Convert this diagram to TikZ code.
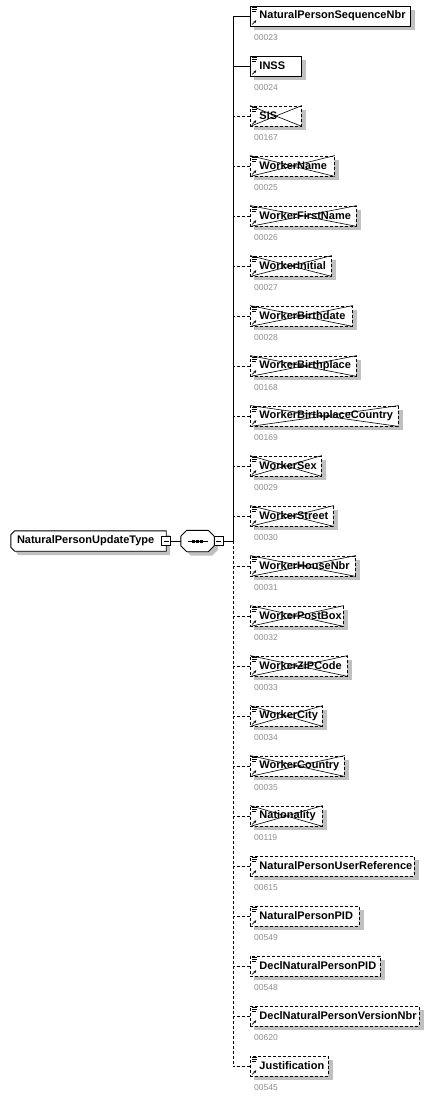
\documentclass[tikz,border=0pt]{standalone}
\usepackage{fontspec}
\setmainfont{Liberation Sans}
\usetikzlibrary{arrows.meta,backgrounds,calc}
\definecolor{shad}{RGB}{192,192,192}
\definecolor{numgray}{RGB}{140,140,140}
\tikzset{
  icons/.style={path picture={
    \draw[solid,line width=0.7pt]
      ([shift={(2pt,-1.6pt)}]path picture bounding box.north west) -- ++(5pt,0pt)
      ([shift={(2pt,-3.4pt)}]path picture bounding box.north west) -- ++(5pt,0pt)
      ([shift={(2pt,-5.2pt)}]path picture bounding box.north west) -- ++(3.5pt,0pt);
    \draw[solid,line width=0.8pt,-{Stealth[length=2.6pt,width=2.8pt]}]
      ([shift={(1.8pt,1.6pt)}]path picture bounding box.south west) -- ++(4pt,4pt);
  }},
  elem/.style={draw, fill=white, line width=0.9pt, anchor=west, minimum height=20pt,
    inner xsep=0pt, inner ysep=0pt, font=\bfseries\fontsize{11}{13}\selectfont, icons},
  optl/.style={dash pattern=on 3pt off 2pt},
  k0/.style={},
  k1/.style={optl},
  k2/.style={optl},
  conn/.style={line width=0.9pt},
  cross/.style={solid, line width=0.6pt},
  num/.style={anchor=west, inner sep=0pt, text=numgray, font=\fontsize{8.5}{10}\selectfont},
  mainb/.style={minimum height=20pt, inner sep=0pt, font=\bfseries\fontsize{11}{13}\selectfont},
  seqb/.style={minimum width=33pt, minimum height=21pt, inner sep=0pt},
  minus/.style={draw, fill=white, line width=0.8pt, minimum size=9pt, inner sep=0pt,
    path picture={\draw[line width=0.8pt] ([xshift=2pt]path picture bounding box.west) -- ([xshift=-2pt]path picture bounding box.east);}},
}
\begin{document}
\begin{tikzpicture}[x=1pt,y=-1pt]
\useasboundingbox (0,0) rectangle (434,1098);

% main type node
\node[mainb] (main) at (88.5,541) {\makebox[155pt][l]{\hspace{6pt}NaturalPersonUpdateType}};
\begin{scope}[on background layer]
  \fill[shad, transform canvas={xshift=4pt,yshift=-4pt}]
    ($(main.north west)+(4,0)$) -- (main.north east) -- (main.south east) -- ($(main.south west)+(4,0)$)
    -- ($(main.south west)+(0,-4)$) -- ($(main.north west)+(0,4)$) -- cycle;
  \draw[fill=white, line width=0.9pt]
    ($(main.north west)+(4,0)$) -- (main.north east) -- (main.south east) -- ($(main.south west)+(4,0)$)
    -- ($(main.south west)+(0,-4)$) -- ($(main.north west)+(0,4)$) -- cycle;
\end{scope}
\node[minus] (m1) at (166,541) {};

% sequence compositor
\node[seqb] (seq) at (197.5,541) {};
\begin{scope}[on background layer]
  \fill[shad, transform canvas={xshift=4pt,yshift=-4pt}]
    ($(seq.north west)+(6,0)$) -- ($(seq.north east)+(-6,0)$) -- ($(seq.north east)+(0,6)$)
    -- ($(seq.south east)+(0,-6)$) -- ($(seq.south east)+(-6,0)$) -- ($(seq.south west)+(6,0)$)
    -- ($(seq.south west)+(0,-6)$) -- ($(seq.north west)+(0,6)$) -- cycle;
  \draw[fill=white, line width=0.9pt]
    ($(seq.north west)+(6,0)$) -- ($(seq.north east)+(-6,0)$) -- ($(seq.north east)+(0,6)$)
    -- ($(seq.south east)+(0,-6)$) -- ($(seq.south east)+(-6,0)$) -- ($(seq.south west)+(6,0)$)
    -- ($(seq.south west)+(0,-6)$) -- ($(seq.north west)+(0,6)$) -- cycle;
\end{scope}
\draw[line width=1pt] ($(seq.center)+(-10,0)$) -- ($(seq.center)+(10,0)$);
\foreach \dx in {-3.6,0,3.6}{
  \fill ($(seq.center)+(\dx-1.5,-1.5)$) rectangle +(3,3);
}
\node[minus] (m2) at (218.8,541) {};
\coordinate (sp) at (233,541);
\draw[conn] (m1.east) -- (seq.west);
\draw[conn] (m2.east) -- (sp);

% children
\foreach \i/\t/\w/\n/\k in {
  0/NaturalPersonSequenceNbr/160/00023/0,
  1/INSS/51/00024/0,
  2/SIS/51/00167/1,
  3/WorkerName/84/00025/1,
  4/WorkerFirstName/106/00026/1,
  5/WorkerInitial/81/00027/1,
  6/WorkerBirthdate/102/00028/1,
  7/WorkerBirthplace/106/00168/1,
  8/WorkerBirthplaceCountry/148/00169/1,
  9/WorkerSex/71/00029/1,
  10/WorkerStreet/83/00030/1,
  11/WorkerHouseNbr/105/00031/1,
  12/WorkerPostBox/93/00032/1,
  13/WorkerZIPCode/97/00033/1,
  14/WorkerCity/72/00034/1,
  15/WorkerCountry/94/00035/1,
  16/Nationality/72/00119/1,
  17/NaturalPersonUserReference/164/00615/2,
  18/NaturalPersonPID/109/00549/2,
  19/DeclNaturalPersonPID/130/00548/2,
  20/DeclNaturalPersonVersionNbr/169/00620/2,
  21/Justification/78/00545/2}{
  \pgfmathsetmacro\yy{16+50*\i}
  \node[elem, k\k] (c\i) at (250,\yy) {\makebox[\w pt][l]{\hspace{9pt}\t}};
  \begin{scope}[on background layer]
    \fill[shad, transform canvas={xshift=4pt,yshift=-4pt}] (c\i.north west) rectangle (c\i.south east);
  \end{scope}
  \ifnum\k=1
    \draw[cross] (c\i.north west) -- (c\i.south east) (c\i.south west) -- (c\i.north east);
  \fi
  \node[num] (n\i) at ([xshift=4pt,yshift=-21.5pt]c\i.west) {\n};
  \draw[conn, k\k] (c\i.west) -- (c\i.west -| sp);
}

% spine
\draw[conn] (sp) -- (sp |- c0.west);
\draw[conn, optl] (sp) -- (sp |- c21.west);
\end{tikzpicture}
\end{document}
